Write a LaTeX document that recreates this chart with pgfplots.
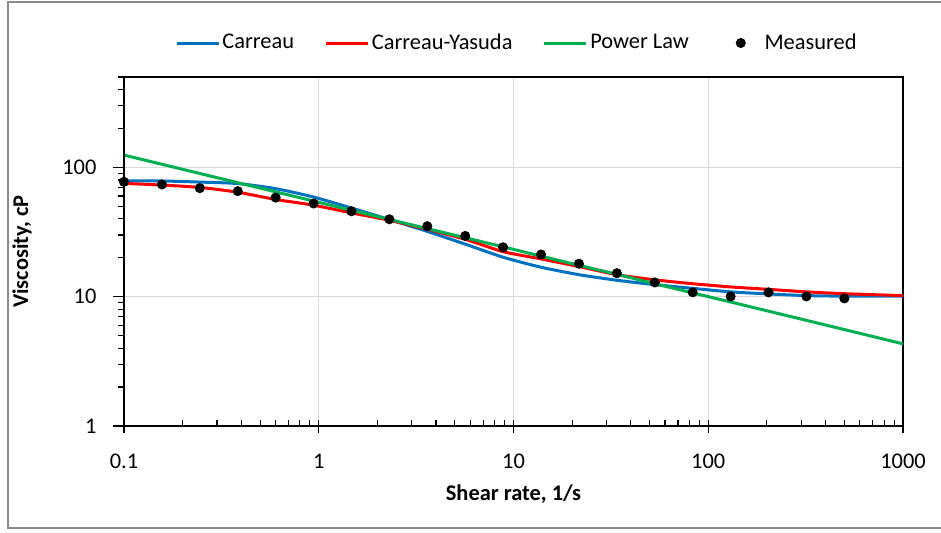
\documentclass[border=0pt]{standalone}
\usepackage{fontspec}
\setmainfont{Carlito}
\usepackage{pgfplots}
\usepackage{pgfplotstable}
\pgfplotsset{compat=1.18}
\definecolor{cblue}{HTML}{0070C0}
\definecolor{cred}{HTML}{FF0000}
\definecolor{cgreen}{HTML}{00B050}
\definecolor{gridgray}{HTML}{D9D9D9}
\definecolor{framegray}{HTML}{8C8C8C}

\pgfplotsset{
  linelegend/.style={legend image code/.code={\draw[##1] (0pt,0pt) -- (21pt,0pt);}},
  dotlegend/.style={legend image code/.code={\draw[opacity=0] (0pt,0pt) -- (21pt,0pt); \draw[##1] plot coordinates {(10.5pt,0pt)};}},
}

\pgfplotstableread{
x y
0.1    77.3
0.1566 73.8
0.2451 69.1
0.3837 65.5
0.6007 58.4
0.9405 52.6
1.472  45.8
2.305  39.7
3.609  35.1
5.650  29.5
8.846  24.1
13.85  21.2
21.68  18.0
33.94  15.2
53.14  12.9
83.20  10.8
130.3  10.05
203.9  10.8
319.3  10.05
500    9.7
}\measured

\pgfplotstableread{
x carreau yasuda power
0.1    78.5  75.2  124.5
0.1566 78.5  73.0  105.7
0.2451 77.0  70.0  89.7
0.3837 75.0  64.3  76.2
0.6007 68.5  56.5  64.7
0.9405 59.0  51.0  54.9
1.472  48.5  44.5  46.6
2.305  39.5  39.0  39.6
3.609  32.0  33.2  33.6
5.650  25.5  27.8  28.6
8.846  20.2  22.3  24.3
13.85  16.9  19.6  20.6
21.68  14.8  17.1  17.5
33.94  13.4  14.8  14.9
53.14  12.4  13.5  12.6
83.20  11.6  12.6  10.7
130.3  10.9  11.9  9.1
203.9  10.5  11.4  7.73
319.3  10.2  10.9  6.56
500    10.1  10.55 5.57
1000   10.1  10.2  4.32
}\models

\begin{document}
\fontsize{11.2}{13}\selectfont
\begin{tikzpicture}
\useasboundingbox (-62pt,-53pt) rectangle (408.5pt,213pt);
\draw[color=framegray, line width=0.75pt] (412pt,-51pt) -- (-58pt,-51pt) -- (-58pt,212pt) -- (412pt,212pt);
\begin{axis}[
  at={(0,0)}, anchor=south west,
  scale only axis, width=389.5pt, height=174.5pt,
  xmode=log, ymode=log,
  xmin=0.1, xmax=1000, ymin=1, ymax=500,
  log ticks with fixed point,
  /pgf/number format/1000 sep={},
  /pgf/number format/assume math mode=true,
  clip=false,
  grid=major,
  major grid style={gridgray, line width=0.6pt},
  tick pos=left,
  tick align=center,
  major tick length=6.5pt,
  minor tick length=3pt,
  every tick/.style={black, line width=0.6pt},
  minor x tick style={yshift=1.5pt},
  minor y tick style={xshift=-1.5pt},
  major y tick style={xshift=-2.5pt},
  axis line style={black, line width=0.6pt},
  xticklabel style={anchor=center, yshift=-14.5pt},
  yticklabel style={anchor=east, xshift=-6.6pt},
  xlabel={\textbf{Shear rate, 1/s}},
  ylabel={\textbf{Viscosity, cP}},
  every axis x label/.style={at={(axis description cs:0.5,-0.195)}, anchor=center},
  every axis y label/.style={at={(axis description cs:-0.131,0.5)}, anchor=center, rotate=90},
  legend columns=4,
  legend style={at={(0.5,1)}, anchor=center, xshift=1.75pt, yshift=17pt, draw=none, fill=none,
    /tikz/every even column/.append style={column sep=14pt},
    nodes={inner xsep=1.2pt, inner ysep=2pt}},
]
\addplot[cblue, line width=1.5pt, smooth, tension=0.4, linelegend] table[x=x, y=carreau] {\models};
\addlegendentry{Carreau}
\addplot[cred, line width=1.5pt, smooth, tension=0.4, linelegend] table[x=x, y=yasuda] {\models};
\addlegendentry{Carreau-Yasuda}
\addplot[cgreen, line width=1.5pt, linelegend] table[x=x, y=power] {\models};
\addlegendentry{Power Law}
\addplot[only marks, mark=*, mark size=2.3pt, black, dotlegend] table[x=x, y=y] {\measured};
\addlegendentry{Measured}
\draw[black, line width=1pt] (rel axis cs:0,1) -- (rel axis cs:0,0) -- (rel axis cs:1,0);
\end{axis}
\end{tikzpicture}
\end{document}
